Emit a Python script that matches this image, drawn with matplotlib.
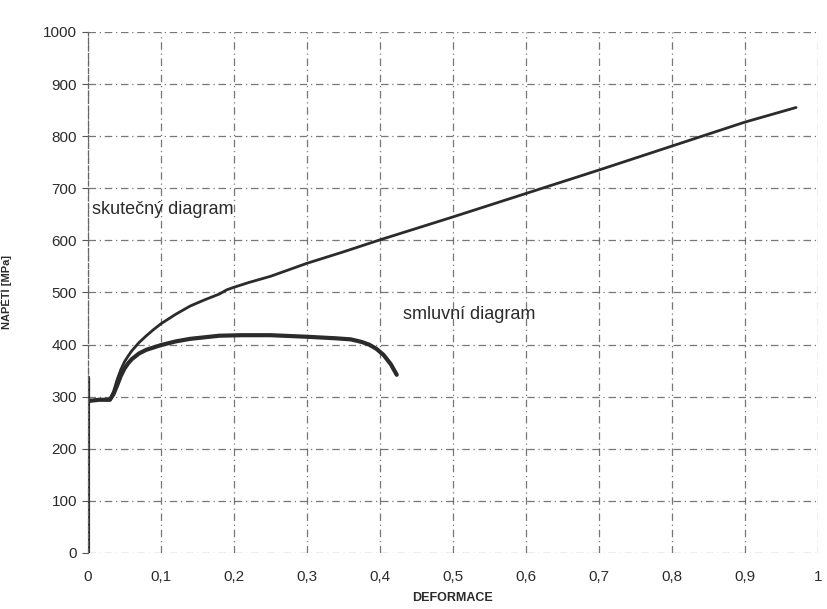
import numpy as np
import matplotlib
matplotlib.use("Agg")
import matplotlib.pyplot as plt

plt.rcParams['font.family'] = ['Liberation Sans', 'DejaVu Sans']

## skutecny diagram (true stress-strain)
true_eps = [0.03, 0.035, 0.04, 0.045, 0.05, 0.055, 0.06, 0.07, 0.08, 0.09,
            0.10, 0.12, 0.14, 0.16, 0.18, 0.19, 0.20, 0.22, 0.25, 0.30,
            0.35, 0.40, 0.50, 0.60, 0.70, 0.80, 0.90, 0.97]
true_sig = [295, 310, 333, 352, 367, 378, 388, 404, 417, 429,
            440, 458, 474, 486, 497, 505, 510, 519, 531, 556,
            578, 601, 645, 690, 735, 781, 827, 855]

## smluvni diagram (engineering stress-strain)
eng_eps = [0.0, 0.0, 0.0, 0.002, 0.015, 0.03, 0.035, 0.04, 0.045, 0.05,
           0.055, 0.06, 0.07, 0.08, 0.10, 0.12, 0.14, 0.16, 0.18, 0.21,
           0.25, 0.30, 0.34, 0.36, 0.375, 0.385, 0.395, 0.405, 0.415, 0.423]
eng_sig = [0, 336, 293, 292, 294, 294, 305, 322, 340, 354,
           364, 372, 383, 390, 399, 406, 411, 414, 417, 418,
           418, 415, 412, 410, 405, 400, 392, 380, 362, 342]

xticks = [0, 0.1, 0.2, 0.3, 0.4, 0.5, 0.6, 0.7, 0.8, 0.9, 1]
xlabels = ['0', '0,1', '0,2', '0,3', '0,4', '0,5', '0,6', '0,7', '0,8', '0,9', '1']
yticks = [0, 100, 200, 300, 400, 500, 600, 700, 800, 900, 1000]

ink = '#2b2b2b'

fig = plt.figure(figsize=(8.27, 6.09), dpi=100)
ax = fig.add_axes([0.1064, 0.092, 0.8826, 0.8555])

ax.plot(true_eps, true_sig, color=ink, lw=2.0, solid_capstyle='round',
        solid_joinstyle='round')
ax.plot(eng_eps, eng_sig, color=ink, lw=3.0, solid_capstyle='round',
        solid_joinstyle='round')

ax.set_xlim(0, 1)
ax.set_ylim(0, 1000)
ax.set_xticks(xticks)
ax.set_xticklabels(xlabels)
ax.set_yticks(yticks)

ax.grid(True, color='#555555', lw=0.9, ls=(0, (6, 3, 1, 3)), alpha=0.8)
for s in ['top', 'right', 'bottom']:
    ax.spines[s].set_visible(False)
ax.spines['left'].set_color('#666666')
ax.spines['left'].set_linestyle((0, (4, 2)))
ax.spines['left'].set_linewidth(0.9)

ax.tick_params(axis='y', length=4, color='#555555', labelsize=11,
               labelcolor=ink, pad=4)
ax.tick_params(axis='x', length=0, labelsize=11, labelcolor=ink, pad=12)

ax.set_xlabel('DEFORMACE', fontsize=9, fontweight='bold', color=ink, labelpad=6)
ax.set_ylabel('NAPĚTÍ [MPa]', fontsize=8, fontweight='bold', color=ink, labelpad=22)

ax.text(0.006, 660, 'skutečný diagram', fontsize=13, color=ink, va='center', ha='left')
ax.text(0.432, 457, 'smluvní diagram', fontsize=13, color=ink, va='center', ha='left')

fig.savefig('out.png', dpi=100, facecolor='white')
